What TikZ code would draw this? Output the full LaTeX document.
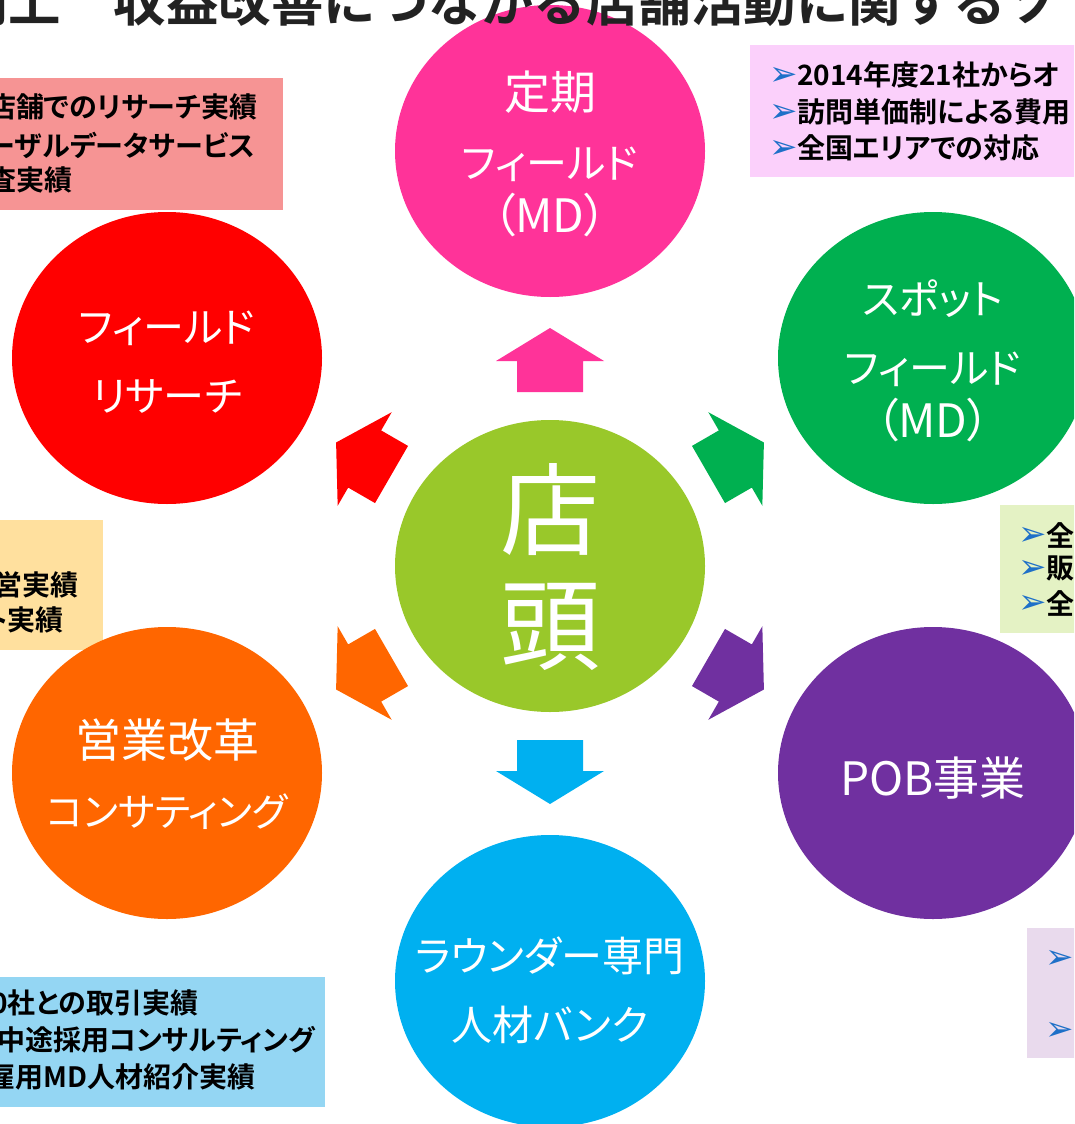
\documentclass[tikz,border=0pt]{standalone}
\usepackage{fontspec}
\setmainfont{Noto Sans CJK JP}[BoldFont={Noto Sans CJK JP Bold},RawFeature=+palt]
\newfontfamily\titlefont{Noto Sans CJK JP Bold}
\newfontfamily\symfont{DejaVu Sans}
\usetikzlibrary{shapes.geometric}

\definecolor{teikipink}{RGB}{255,51,153}
\definecolor{researchred}{RGB}{255,0,0}
\definecolor{spotgreen}{RGB}{0,176,80}
\definecolor{tentougreen}{RGB}{153,200,42}
\definecolor{eigyouorange}{RGB}{255,102,0}
\definecolor{pobpurple}{RGB}{112,48,160}
\definecolor{rounderblue}{RGB}{0,176,240}
\definecolor{notered}{RGB}{246,148,148}
\definecolor{notepink}{RGB}{251,208,251}
\definecolor{notegreen}{RGB}{228,242,196}
\definecolor{noteyellow}{RGB}{255,224,158}
\definecolor{notelav}{RGB}{233,218,237}
\definecolor{noteblue}{RGB}{148,214,243}
\definecolor{bulletblue}{RGB}{30,112,200}
\definecolor{titlegray}{RGB}{34,34,34}

\newcommand\kana{\fontsize{41}{69}\selectfont}

\begin{document}
\begin{tikzpicture}[x=1pt,y=-1pt,
  bubble/.style={ellipse,minimum width=310pt,minimum height=292pt,inner sep=0pt},
  bubbletext/.style={inner sep=0pt,text=white,align=center,font=\fontsize{46}{69}\selectfont},
  noteline/.style={anchor=west,inner sep=0pt,font=\fontsize{28}{32}\selectfont\bfseries},
  bullet/.style={inner sep=0pt,text=bulletblue,font=\symfont\fontsize{34}{34}\selectfont}]
  \useasboundingbox (0,0) rectangle (1074,1124);
  \clip (0,0) rectangle (1074,1124);

  \fill[notered] (-5,78) rectangle (283,210);
  \fill[notepink] (750,45) rectangle (1080,177);
  \fill[noteyellow] (-5,520) rectangle (103,650);
  \fill[notegreen] (1000,505) rectangle (1080,633);
  \fill[notelav] (1027,928) rectangle (1080,1058);
  \fill[noteblue] (-5,977) rectangle (325,1107);

  \node[noteline] (r1) at (-12,107) {店舗でのリサーチ実績};
  \node[noteline] (r2) at (-12,145) {ーザルデータサービス};
  \node[noteline] (r3) at (-12,180) {査実績};

  \node[bullet] (p1b) at (784,76) {➢};
  \node[bullet] (p2b) at (784,113) {➢};
  \node[bullet] (p3b) at (784,149) {➢};
  \node[noteline] (p1) at (797,75) {2014年度21社からオ};
  \node[noteline] (p2) at (797,112) {訪問単価制による費用};
  \node[noteline] (p3) at (797,148) {全国エリアでの対応};

  \node[noteline] (y1) at (-6,585) {営実績};
  \node[noteline] (y2) at (-16,620) {ト実績};

  \node[bullet] (g1b) at (1033,536) {➢};
  \node[bullet] (g2b) at (1033,569) {➢};
  \node[bullet] (g3b) at (1033,604) {➢};
  \node[noteline] (g1) at (1046,535) {全};
  \node[noteline] (g2) at (1046,568) {販};
  \node[noteline] (g3) at (1046,603) {全};

  \node[bullet] (l1b) at (1060,959) {➢};
  \node[bullet] (l2b) at (1060,1031) {➢};

  \node[noteline] (b1) at (-9,1003) {0社との取引実績};
  \node[noteline] (b2) at (-3,1040) {中途採用コンサルティング};
  \node[noteline] (b3) at (-13,1077) {雇用MD人材紹介実績};

  \node[bubble,fill=teikipink] (teiki) at (550,151) {};
  \node[bubble,fill=researchred] (research) at (167,358) {};
  \node[bubble,fill=spotgreen] (spot) at (933,358) {};
  \node[bubble,fill=tentougreen] (tentou) at (550,566) {};
  \node[bubble,fill=eigyouorange] (eigyou) at (167,773) {};
  \node[bubble,fill=pobpurple] (pob) at (933,773) {};
  \node[bubble,fill=rounderblue] (rounder) at (550,981) {};

  \node[bubbletext] (teiki-t) at (550,154) {定期\\{\kana フィールド}\\[-15pt]（MD）};
  \node[bubbletext] (research-t) at (167,362) {{\kana フィールド}\\{\kana リサーチ}};
  \node[bubbletext] (spot-t) at (933,361) {{\kana スポット}\\{\kana フィールド}\\[-15pt]（MD）};
  \node[bubbletext,font=\fontsize{100}{115}\selectfont] (tentou-t) at (550,567) {店\\頭};
  \node[bubbletext] (eigyou-t) at (167,774) {営業改革\\{\fontsize{39}{69}\selectfont コンサティング}};
  \node[bubbletext] (pob-t) at (933,778) {POB事業};
  \node[bubbletext] (rounder-t) at (550,990) {{\kana ラウンダー専門}\\{\kana 人材バンク}};

  \foreach \ang/\dist/\col in {90/206/teikipink,30/215/spotgreen,-30/215/pobpurple,-90/206/rounderblue,210/215/eigyouorange,150/215/researchred}
    \fill[\col,shift={(tentou.center)},rotate=\ang] (\dist+32,0) -- ++(-33,54) -- ++(0,-21) -- ++(-31,0) -- ++(0,-66) -- ++(31,0) -- ++(0,-21) -- cycle;

  \node[anchor=base west,inner sep=0pt,text=titlegray,font=\titlefont\fontsize{52.5}{52.5}\selectfont] (title) at (-44,22) {向上　収益改善につながる店舗活動に関するソ};
\end{tikzpicture}
\end{document}
